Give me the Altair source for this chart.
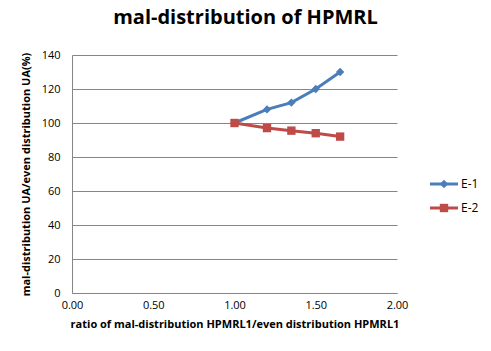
import altair as alt
import pandas as pd

x_vals = [1.0, 1.2, 1.35, 1.5, 1.65]
e1 = [100, 108, 112, 120, 130]
e2 = [100, 97, 95.5, 94, 92]
series = ["E-1", "E-2"]
colors = ["#4A7EBB", "#BE4B48"]
shapes = ["diamond", "square"]

rows = []
for s, vals in zip(series, [e1, e2]):
    for x, y in zip(x_vals, vals):
        rows.append({"x": x, "y": y, "series": s})
df = pd.DataFrame(rows)
leg_df = pd.DataFrame({"series": series})

FONT = "Open Sans"

xenc = alt.X("x:Q", scale=alt.Scale(domain=[0, 2]),
             axis=alt.Axis(values=[0, 0.5, 1, 1.5, 2], format=".2f", grid=False,
                           labelFlush=False,
                           title="ratio of mal-distribution HPMRL1/even distribution HPMRL1"))
yenc = alt.Y("y:Q", scale=alt.Scale(domain=[0, 140]),
             axis=alt.Axis(values=list(range(0, 141, 20)), grid=True,
                           title="mal-distribution  UA/even distribution UA(%)"))
col = alt.Color("series:N", scale=alt.Scale(domain=series, range=colors), legend=None)
shp = alt.Shape("series:N", scale=alt.Scale(domain=series, range=shapes), legend=None)

base = alt.Chart(df)
lines = base.mark_line(strokeWidth=3).encode(x=xenc, y=yenc, color=col)
pts = base.mark_point(filled=True, size=70, opacity=1).encode(x=xenc, y=yenc, color=col, shape=shp)

# legend drawn as marks
ly = alt.Y("series:N", scale=alt.Scale(domain=series, range=[129, 153], type="point", padding=0), axis=None)
lbase = alt.Chart(leg_df)
leg_line = lbase.mark_rule(strokeWidth=3).encode(x=alt.value(358), x2=alt.value(386), y=ly, color=col)
leg_pt = lbase.mark_point(filled=True, size=70, opacity=1).encode(x=alt.value(372), y=ly, color=col, shape=shp)
leg_txt = lbase.mark_text(align="left", baseline="middle", fontSize=12, font=FONT, color="#000000").encode(
    x=alt.value(389), y=ly, text="series:N")
legend = alt.layer(leg_line, leg_pt, leg_txt)

chart = alt.layer(lines + pts, legend).resolve_scale(y="independent").properties(
    width=325, height=238,
    autosize=alt.AutoSizeParams(type="none"),
    padding={"left": 72, "top": 55, "right": 94, "bottom": 58},
    title=alt.TitleParams("mal-distribution of HPMRL", fontSize=20, font=FONT,
                          fontWeight="bold", anchor="middle", dx=11, offset=21,
                          color="#000000"),
).configure_axis(
    labelFont=FONT, titleFont=FONT, labelFontSize=11, titleFontSize=11,
    titleFontWeight="bold", domainColor="#868686", tickColor="#868686",
    gridColor="#868686", labelColor="#000000", titleColor="#000000",
    ticks=False,
).configure_axisY(
    labelPadding=12, titlePadding=10,
).configure_axisX(
    labelPadding=6, titlePadding=8,
).configure_view(stroke=None)

chart.save("out.html", embed_options={"renderer": "svg", "actions": False})
